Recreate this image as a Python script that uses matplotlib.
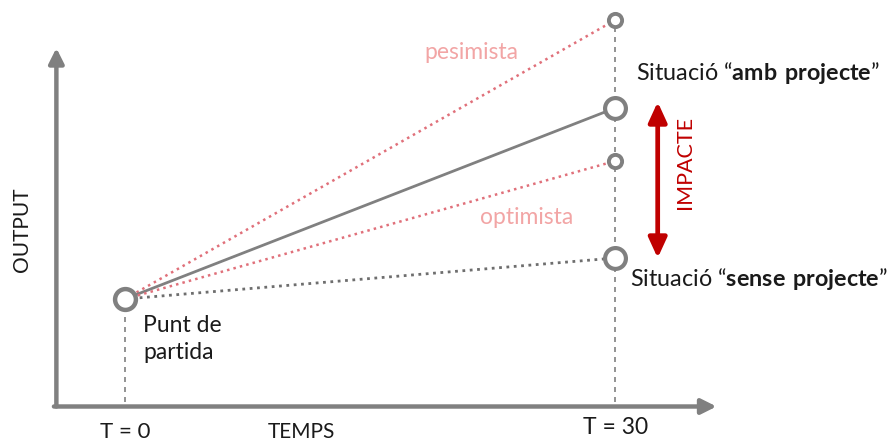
import matplotlib
matplotlib.use("Agg")
import matplotlib.pyplot as plt

plt.rcParams['font.family'] = ['Lato', 'DejaVu Sans']
plt.rcParams['mathtext.fontset'] = 'custom'
plt.rcParams['mathtext.rm'] = 'Lato'
plt.rcParams['mathtext.bf'] = 'Lato:bold'

# ---- data ----
times = [0, 30]
time_labels = ["T = 0", "T = 30"]
start_output = 10.7
scenario_names = ["pesimista", "amb projecte", "optimista", "sense projecte"]
end_outputs = [38.6, 29.8, 24.5, 14.8]

GREY = "#808080"
PINK = "#e0707a"
PINK_TXT = "#f2a5a5"
RED = "#c00000"
TXT = "#1a1a1a"

fig = plt.figure(figsize=(8.93, 4.43), dpi=100)
ax = fig.add_axes([0, 0, 1, 1])
ax.set_xlim(-7.65, 47.0)
ax.set_ylim(-3.7, 40.6)
ax.axis("off")

# axes arrows
ax.annotate("", xy=(-4.2, 35.8), xytext=(-4.2, -0.05),
            arrowprops=dict(arrowstyle="-|>,head_width=0.45,head_length=0.9",
                            color=GREY, lw=3.2, shrinkA=0, shrinkB=0))
ax.annotate("", xy=(36.2, -0.05), xytext=(-4.35, -0.05),
            arrowprops=dict(arrowstyle="-|>,head_width=0.45,head_length=0.9",
                            color=GREY, lw=3.2, shrinkA=0, shrinkB=0))

# vertical dashed guides
ax.plot([times[0], times[0]], [0.4, start_output - 1.0], ls=(0, (3, 3)), color=GREY, lw=1.2)
ax.plot([times[1], times[1]], [0.4, end_outputs[0]], ls=(0, (3, 3)), color=GREY, lw=1.2)

# scenario lines
styles = {
    "pesimista": dict(color=PINK, ls=":", lw=1.8),
    "amb projecte": dict(color=GREY, ls="-", lw=2.0),
    "optimista": dict(color=PINK, ls=":", lw=1.8),
    "sense projecte": dict(color="#6e6e6e", ls=":", lw=2.0),
}
for name, yend in zip(scenario_names, end_outputs):
    ax.plot(times, [start_output, yend], **styles[name], zorder=2)

# markers
ax.plot(times[0], start_output, "o", ms=15, mfc="white", mec=GREY, mew=3.2, zorder=4)
for name, yend in zip(scenario_names, end_outputs):
    if name in ("amb projecte", "sense projecte"):
        ax.plot(times[1], yend, "o", ms=15, mfc="white", mec=GREY, mew=3.0, zorder=4)
    else:
        ax.plot(times[1], yend, "o", ms=9.5, mfc="white", mec=GREY, mew=2.8, zorder=4)

# texts
ax.text(21.2, 35.4, "pesimista", color=PINK_TXT, fontsize=16.5, ha="center", va="center")
ax.text(24.6, 18.9, "optimista", color=PINK_TXT, fontsize=16.5, ha="center", va="center")
ax.text(31.3, 33.3, "Situació “$\\bf{amb\\ projecte}$”", color=TXT, fontsize=16.8,
        ha="left", va="center")
ax.text(30.9, 12.7, "Situació “$\\bf{sense\\ projecte}$”", color=TXT, fontsize=16.8,
        ha="left", va="center")
ax.text(1.1, 9.1, "Punt de\npartida", color=TXT, fontsize=16.5, ha="left", va="top",
        linespacing=1.35)
ax.text(-6.3, 17.6, "OUTPUT", color=TXT, fontsize=15, rotation=90, ha="center", va="center")
ax.text(10.8, -2.55, "TEMPS", color=TXT, fontsize=15, ha="center", va="center")
ax.text(times[0], -2.55, time_labels[0], color=TXT, fontsize=16, ha="center", va="center")
ax.text(times[1], -2.2, time_labels[1], color=TXT, fontsize=16.5, ha="center", va="center")

# impact arrow
ax.annotate("", xy=(32.6, end_outputs[3] + 0.0), xytext=(32.6, end_outputs[1] + 0.6),
            arrowprops=dict(arrowstyle="<|-|>,head_width=0.55,head_length=1.2",
                            color=RED, lw=3.4, shrinkA=0, shrinkB=0))
ax.text(34.3, 24.4, "IMPACTE", color=RED, fontsize=15.5, rotation=90, ha="center", va="center")

fig.savefig("out.png", dpi=100)
